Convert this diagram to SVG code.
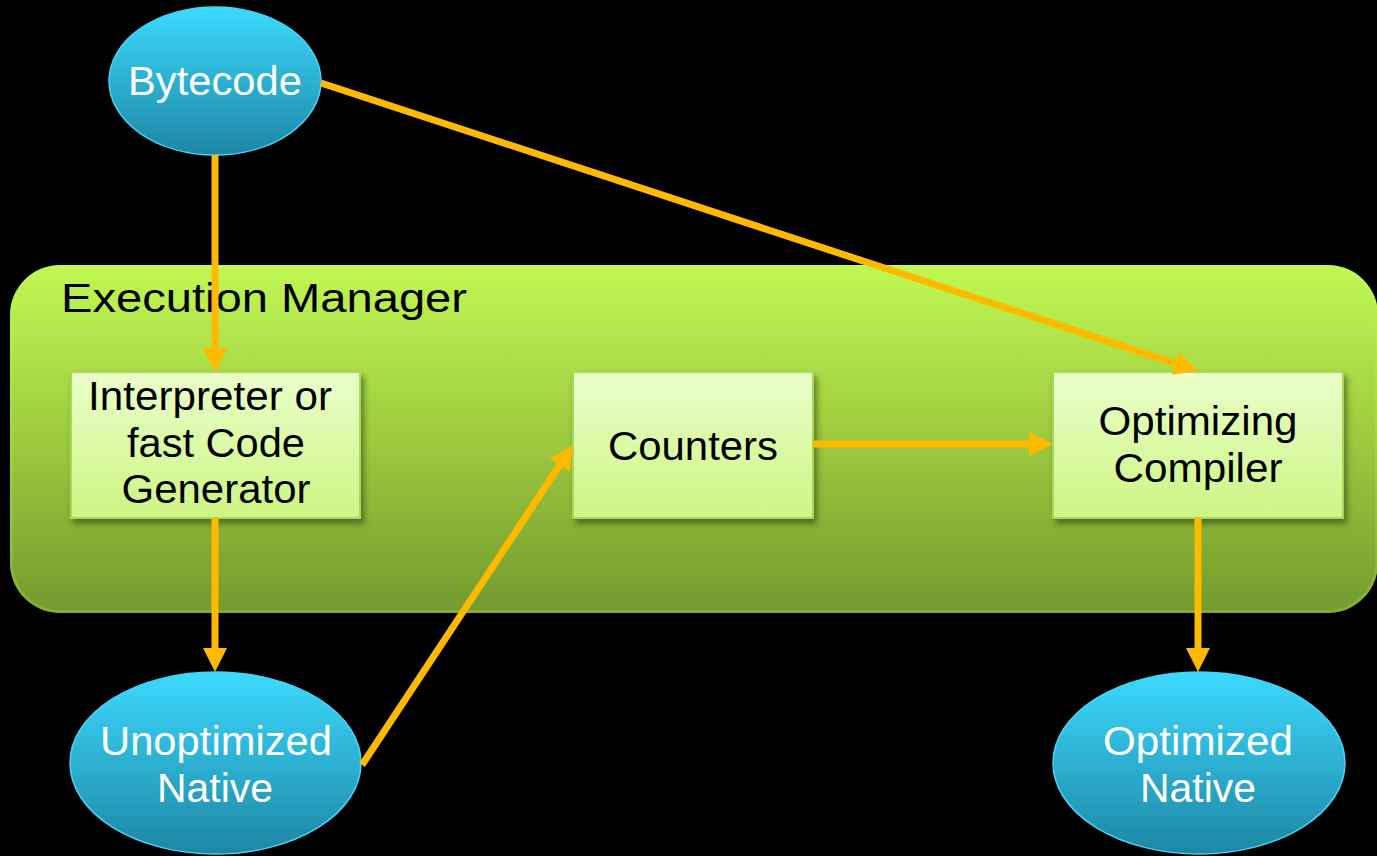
<svg xmlns="http://www.w3.org/2000/svg" width="1377" height="856" viewBox="0 0 1377 856">
  <defs>
    <linearGradient id="gContainer" x1="0" y1="0" x2="0" y2="1">
      <stop offset="0" stop-color="#c0f852"/>
      <stop offset="0.5" stop-color="#9dca3e"/>
      <stop offset="1" stop-color="#739a2e"/>
    </linearGradient>
    <linearGradient id="gBox" x1="0" y1="0" x2="0" y2="1">
      <stop offset="0" stop-color="#eaffca"/>
      <stop offset="1" stop-color="#cdf583"/>
    </linearGradient>
    <linearGradient id="gOval" x1="0" y1="0" x2="0" y2="1">
      <stop offset="0" stop-color="#3bdaff"/>
      <stop offset="1" stop-color="#1e86a4"/>
    </linearGradient>
    <filter id="shadow" x="-10%" y="-10%" width="125%" height="130%">
      <feDropShadow dx="3" dy="5" stdDeviation="3" flood-color="#2f4210" flood-opacity="0.6"/>
    </filter>
    <marker id="head" markerUnits="userSpaceOnUse" markerWidth="24" markerHeight="24" refX="14" refY="12" orient="auto">
      <path d="M0,0 L24,12 L0,24 z" fill="#ffba00"/>
    </marker>
    <style>
      .oval { fill: url(#gOval); stroke: #48d4f7; stroke-width: 1.5; }
      .box { fill: url(#gBox); stroke: #a6d85c; stroke-width: 2; filter: url(#shadow); }
      .lbl { font-size: 41px; text-anchor: middle; }
      .white { fill: #ffffff; }
      .dark { fill: #000000; }
      .edge { fill: none; stroke: #ffba00; stroke-width: 7; marker-end: url(#head); }
    </style>
  </defs>

  <rect width="1377" height="856" fill="#000000"/>

  <g font-family="Liberation Sans, Arimo, Arial, sans-serif">
    <!-- container -->
    <g id="execution-manager">
      <rect x="10" y="265" width="1368" height="348" rx="50" ry="50" fill="url(#gContainer)"/>
      <rect x="11.5" y="266.5" width="1365" height="345" rx="49" ry="49" fill="none" stroke="#c8ff6a" stroke-opacity="0.18" stroke-width="3"/>
      <text x="61" y="312" class="lbl dark" style="text-anchor:start" font-size="42" textLength="406" lengthAdjust="spacingAndGlyphs">Execution Manager</text>
    </g>

    <g id="bytecode">
      <ellipse cx="215" cy="81" rx="106" ry="74" class="oval"/>
      <text x="215" y="95" class="lbl white" textLength="174" lengthAdjust="spacingAndGlyphs">Bytecode</text>
    </g>

    <g id="interpreter">
      <rect x="71" y="372" width="289" height="146" class="box"/>
      <text x="210" y="410" class="lbl dark" textLength="244" lengthAdjust="spacingAndGlyphs">Interpreter or</text>
      <text x="216" y="457" class="lbl dark" textLength="178" lengthAdjust="spacingAndGlyphs">fast Code</text>
      <text x="216" y="503" class="lbl dark" textLength="189" lengthAdjust="spacingAndGlyphs">Generator</text>
    </g>

    <g id="counters">
      <rect x="573" y="372" width="240" height="146" class="box"/>
      <text x="693" y="460" class="lbl dark" textLength="170" lengthAdjust="spacingAndGlyphs">Counters</text>
    </g>

    <g id="optimizing-compiler">
      <rect x="1053" y="372" width="290" height="146" class="box"/>
      <text x="1198" y="435" class="lbl dark" textLength="199" lengthAdjust="spacingAndGlyphs">Optimizing</text>
      <text x="1198" y="482" class="lbl dark" textLength="169" lengthAdjust="spacingAndGlyphs">Compiler</text>
    </g>

    <g id="unoptimized-native">
      <ellipse cx="215.5" cy="763" rx="145.5" ry="91" class="oval"/>
      <text x="216" y="755" class="lbl white" textLength="232" lengthAdjust="spacingAndGlyphs">Unoptimized</text>
      <text x="215" y="802" class="lbl white" textLength="116" lengthAdjust="spacingAndGlyphs">Native</text>
    </g>

    <g id="optimized-native">
      <ellipse cx="1199" cy="763" rx="146" ry="91" class="oval"/>
      <text x="1198" y="755" class="lbl white" textLength="190" lengthAdjust="spacingAndGlyphs">Optimized</text>
      <text x="1198" y="802" class="lbl white" textLength="116" lengthAdjust="spacingAndGlyphs">Native</text>
    </g>
  </g>

  <!-- connectors -->
  <g id="connectors">
    <line x1="215" y1="155" x2="215" y2="362" class="edge"/>
    <line x1="321" y1="83" x2="1188.5" y2="367.9" class="edge"/>
    <line x1="215" y1="518" x2="215" y2="662" class="edge"/>
    <line x1="362" y1="765" x2="567.5" y2="453.3" class="edge"/>
    <line x1="813" y1="444" x2="1043" y2="444" class="edge"/>
    <line x1="1198" y1="518" x2="1198" y2="662" class="edge"/>
  </g>
</svg>
